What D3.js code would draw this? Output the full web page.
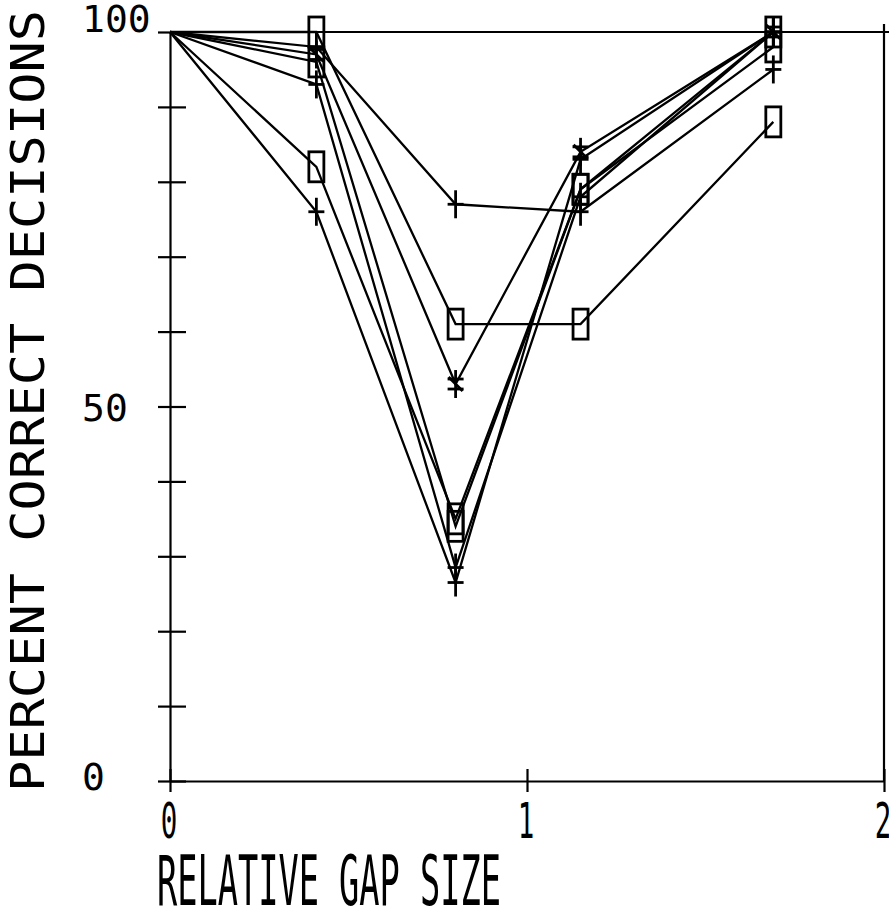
<!DOCTYPE html>
<html><head><meta charset="utf-8">
<script src="https://cdn.jsdelivr.net/npm/d3@7"></script>
<style>html,body{margin:0;padding:0;background:#fff;overflow:hidden}</style>
</head><body>
<svg id="c" width="889" height="916"></svg>
<script>
// ---- data ----
const gapSizes = [0, 0.41, 0.80, 1.15, 1.69];
const series1 = [100, 98, 77, 76, 95];   // plus
const series2 = [100, 100, 61, 61, 88];  // square
const series3 = [100, 97, 53, 84, 100];  // star
const series4 = [100, 96, 34, 79, 100];  // square
const series5 = [100, 93, 28.5, 78, 100];// plus
const series6 = [100, 82, 35, 79, 98];   // square
const series7 = [100, 76, 26.5, 83, 100];// plus
const markers = ["plus", "square", "star", "square", "plus", "square", "plus"];
const yTickValues = [0,10,20,30,40,50,60,70,80,90,100];
const yLabelValues = [0, 50, 100];
const xTickValues = [0, 1, 2];
const xTitle = "RELATIVE GAP SIZE";
const yTitle = "PERCENT CORRECT DECISIONS";

const allSeries = [series1, series2, series3, series4, series5, series6, series7];

const svg = d3.select("#c");
const x = d3.scaleLinear().domain([0, 2]).range([170, 884]);
const y = d3.scaleLinear().domain([0, 100]).range([781, 32]);
const ink = "#000";
const font = "'DejaVu Sans Mono', 'Liberation Mono', monospace";

// frame
svg.append("line").attr("x1", x(0)).attr("x2", 889).attr("y1", y(100)).attr("y2", y(100)).attr("stroke", ink).attr("stroke-width", 2.2);
svg.append("line").attr("x1", x(2)).attr("x2", x(2)).attr("y1", y(100)-8).attr("y2", y(0)).attr("stroke", ink).attr("stroke-width", 2.2);

// y axis
const yAxis = svg.append("g").attr("transform", `translate(${x(0)},0)`)
  .call(d3.axisLeft(y).tickValues(yTickValues).tickSizeOuter(0).tickFormat(""));
yAxis.select(".domain").attr("stroke", ink).attr("stroke-width", 2.2);
yAxis.selectAll(".tick line").attr("x1", -12).attr("x2", 16).attr("stroke", ink).attr("stroke-width", 2.2);

// x axis
const xAxis = svg.append("g").attr("transform", `translate(0,${y(0)})`)
  .call(d3.axisBottom(x).tickValues(xTickValues).tickSizeOuter(0).tickFormat(""));
xAxis.select(".domain").attr("stroke", ink).attr("stroke-width", 2.2);
xAxis.selectAll(".tick line").attr("y1", -12).attr("y2", 11).attr("stroke", ink).attr("stroke-width", 2.2);

// y tick labels (left-aligned, plotter style)
const yLabBaseline = {0: 9, 50: 14, 100: 0};
svg.selectAll("text.ylab").data(yLabelValues).enter().append("text")
  .attr("class", "ylab")
  .attr("x", 82)
  .attr("y", d => y(d) + yLabBaseline[d])
  .attr("text-anchor", "start")
  .attr("font-family", font).attr("font-size", 38).attr("fill", ink)
  .text(d => d);

// x tick labels
svg.selectAll("text.xlab").data(xTickValues).enter().append("text")
  .attr("class", "xlab")
  .attr("transform", d => `translate(${x(d) - 1},${y(0) + 57}) scale(0.55,1)`)
  .attr("text-anchor", "middle")
  .attr("font-family", font).attr("font-size", 50).attr("fill", ink)
  .text(d => d);

// axis titles
svg.append("text")
  .attr("x", 157).attr("y", 905)
  .attr("textLength", 344).attr("lengthAdjust", "spacingAndGlyphs")
  .attr("font-family", font).attr("font-size", 70).attr("fill", ink)
  .text(xTitle);
svg.append("text")
  .attr("transform", "translate(44,792) rotate(-90)")
  .attr("textLength", 782).attr("lengthAdjust", "spacingAndGlyphs")
  .attr("font-family", font).attr("font-size", 46).attr("fill", ink)
  .text(yTitle);

// lines
const line = d3.line().x((d, i) => x(gapSizes[i])).y(d => y(d));
svg.append("g").selectAll("path").data(allSeries).enter().append("path")
  .attr("d", d => line(d)).attr("fill", "none").attr("stroke", ink).attr("stroke-width", 2.3);

// markers
const mg = svg.append("g");
allSeries.forEach((s, si) => {
  const m = markers[si];
  s.forEach((v, i) => {
    if (i === 0) return;
    const cx = x(gapSizes[i]), cy = y(v);
    const g = mg.append("g").attr("transform", `translate(${cx},${cy})`)
      .attr("stroke", ink).attr("stroke-width", 2.8).attr("fill", "none");
    if (m === "square") {
      g.append("rect").attr("x", -7.5).attr("y", -15).attr("width", 15).attr("height", 30);
    } else if (m === "plus") {
      g.append("line").attr("x1", 0).attr("x2", 0).attr("y1", -14).attr("y2", 14);
      g.append("line").attr("x1", -8).attr("x2", 8).attr("y1", 0).attr("y2", 0);
    } else {
      g.append("line").attr("x1", 0).attr("x2", 0).attr("y1", -14).attr("y2", 14);
      g.append("line").attr("x1", -8).attr("x2", 8).attr("y1", -5).attr("y2", -5);
      g.append("line").attr("x1", -8).attr("x2", 8).attr("y1", 5).attr("y2", 5);
      g.append("line").attr("x1", -7).attr("x2", 7).attr("y1", -7).attr("y2", 7);
    }
  });
});
</script>
</body></html>
